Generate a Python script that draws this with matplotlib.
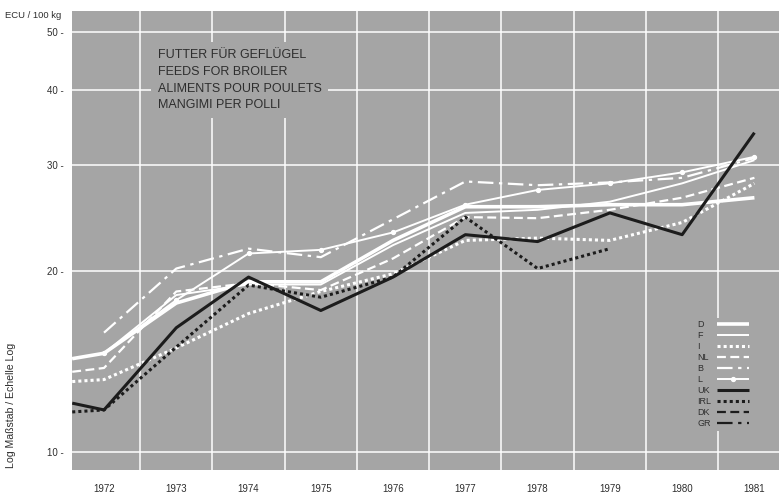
import matplotlib
matplotlib.use("Agg")
import matplotlib.pyplot as plt
from matplotlib.ticker import FixedLocator, NullLocator
import numpy as np

# ---- data ----
x_start = 1971.56
years = [1972, 1973, 1974, 1975, 1976, 1977, 1978, 1979, 1980, 1981]
year_labels = [str(y) for y in years]
x_all = [x_start] + years

D   = [14.3, 14.6, 17.7, 19.2, 19.2, 22.5, 25.6, 25.6, 25.8, 25.8, 26.5]
F   = [14.3, 14.6, 18.25, 19.0, 19.0, 22.1, 25.0, 25.3, 26.1, 28.0, 30.6]
I   = [13.1, 13.2, 14.9, 17.0, 18.5, 19.8, 22.5, 22.7, 22.5, 24.1, 28.0]
NL  = [13.6, 13.8, 18.5, 19.1, 18.6, 21.0, 24.6, 24.5, 25.3, 26.5, 28.6]
B   = [None, 15.8, 20.2, 21.8, 21.1, 24.4, 28.2, 27.8, 28.1, 28.6, 30.85]
L   = [None, 14.6, 17.9, 21.4, 21.7, 23.2, 25.8, 27.3, 28.0, 29.2, 31.0]
UK  = [12.06, 11.75, 16.1, 19.55, 17.2, 19.55, 23.0, 22.4, 25.0, 23.0, 34.0]
IRL = [11.66, 11.75, 14.95, 18.96, 18.1, 19.55, 24.6, 20.2, 21.8, None, None]
DK  = []
GR  = []

y_ticks = [10, 20, 30, 40, 50]
title_lines = ["FUTTER FÜR GEFLÜGEL", "FEEDS FOR BROILER",
               "ALIMENTS POUR POULETS", "MANGIMI PER POLLI"]

BG = "#a5a5a5"
TXT = "#2e2e2e"
WHITE = "#ffffff"
BLACK = "#1c1c1c"

plt.rcParams['font.family'] = ['Liberation Sans', 'DejaVu Sans']

fig = plt.figure(figsize=(7.79, 4.95), dpi=100)
ax = fig.add_axes([72/779, 25/495, 707/779, 459/495])
ax.set_facecolor(BG)
ax.set_yscale('log')
ax.set_xlim(1971.557, 1981.34)
ax.set_ylim(9.334, 54.2)
for s in ax.spines.values():
    s.set_visible(False)

# grid
for gx in np.arange(1972.5, 1981, 1.0):
    ax.axvline(gx, color=WHITE, lw=1.1, zorder=1)
for gy in y_ticks:
    ax.axhline(gy, color=WHITE, lw=1.1, zorder=1)

ax.yaxis.set_major_locator(FixedLocator(y_ticks))
ax.yaxis.set_minor_locator(NullLocator())
ax.set_yticklabels([f"{v} -" for v in y_ticks])
ax.tick_params(axis='y', length=0, pad=6, labelsize=7, labelcolor=TXT)
ax.set_xticks(years)
ax.set_xticklabels(year_labels)
ax.tick_params(axis='x', length=0, pad=10, labelsize=7, labelcolor=TXT)


def series(vals):
    xs = [x for x, v in zip(x_all, vals) if v is not None]
    ys = [v for v in vals if v is not None]
    return xs, ys


styles = [
    ("D", D, dict(color=WHITE, lw=2.6, ls='-')),
    ("F", F, dict(color=WHITE, lw=1.4, ls='-')),
    ("I", I, dict(color=WHITE, lw=2.2, ls=(0, (1, 1)))),
    ("NL", NL, dict(color=WHITE, lw=1.6, ls=(0, (4, 2)))),
    ("B", B, dict(color=WHITE, lw=1.6, ls=(0, (7, 2.5, 1.5, 2.5)))),
    ("L", L, dict(color=WHITE, lw=1.4, ls='-', marker='o', ms=2.8)),
    ("UK", UK, dict(color=BLACK, lw=2.2, ls='-')),
    ("IRL", IRL, dict(color=BLACK, lw=2.2, ls=(0, (1, 1)))),
    ("DK", DK, dict(color=BLACK, lw=1.6, ls=(0, (4, 2)))),
    ("GR", GR, dict(color=BLACK, lw=1.6, ls=(0, (7, 2.5, 1.5, 2.5)))),
]
handles = []
names = []
for name, vals, kw in styles:
    xs, ys = series(vals)
    ln, = ax.plot(xs, ys, label=name, zorder=3, solid_capstyle='butt', **kw)
    handles.append(ln)
    names.append(name)

# title block
ax.text(0.121, 0.918, "\n".join(title_lines), transform=ax.transAxes,
        fontsize=9.0, color=TXT, va='top', ha='left', linespacing=1.55,
        zorder=4,
        bbox=dict(boxstyle='square,pad=0.5', facecolor=BG, edgecolor='none'))

# legend: handles drawn by legend, labels left-aligned as in the reference
leg = ax.legend(handles, [""] * len(handles), loc='lower right',
                bbox_to_anchor=(0.962, 0.085), fontsize=6.5, frameon=True,
                facecolor=BG, edgecolor=BG, framealpha=1,
                handlelength=3.6, labelspacing=0.22, handletextpad=0.0,
                borderpad=0.3, borderaxespad=0)
leg.get_frame().set_linewidth(0)
leg.set_zorder(5)
# widen the frame on the left to make room for the labels
fig.canvas.draw()
renderer = fig.canvas.get_renderer()
fig_h = fig.bbox.height
for h, name in zip(leg.legend_handles, names):
    bb = h.get_window_extent(renderer)
    yc = (bb.y0 + bb.y1) / 2
    fig.text(697 / 779, yc / fig_h, name, fontsize=6.5, color=TXT,
             ha='left', va='center', zorder=6,
             bbox=dict(boxstyle='square,pad=0.25', facecolor=BG,
                       edgecolor='none'))

fig.text(5/779, 1 - 16/495, "ECU / 100 kg", fontsize=6.8, color=TXT,
         ha='left', va='center')
fig.text(11/779, 1 - 405/495, "Log Maßstab / Echelle Log", fontsize=7.6,
         color=TXT, rotation=90, ha='center', va='center')

fig.savefig("out.png", dpi=100, facecolor='white')
